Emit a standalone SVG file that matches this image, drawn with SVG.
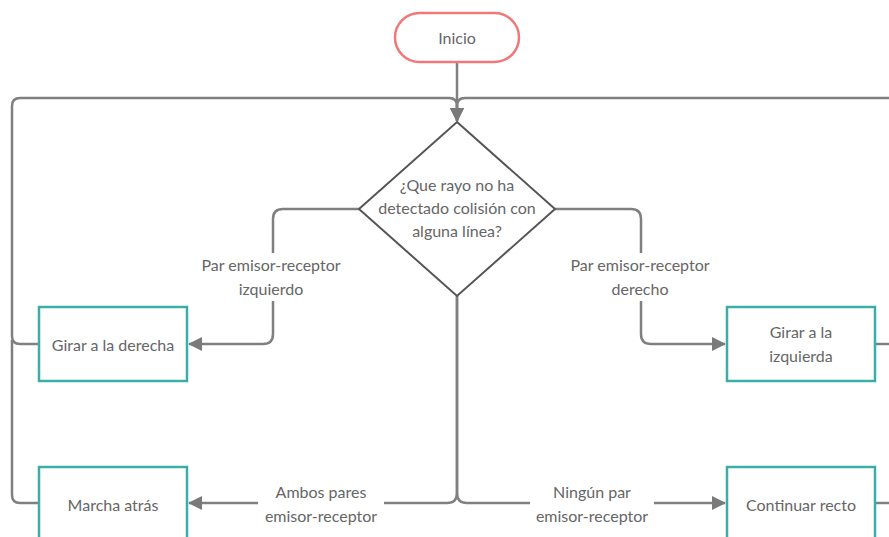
<svg xmlns="http://www.w3.org/2000/svg" width="889" height="537" viewBox="0 0 889 537">
  <defs>
    <marker id="arrow" viewBox="0 0 14 14" refX="13" refY="7" markerWidth="14" markerHeight="14" markerUnits="userSpaceOnUse" orient="auto">
      <path d="M0,0 L14,7 L0,14 Z" fill="#7a7a7a"/>
    </marker>
    <style>
      .conn { fill: none; stroke: #808080; stroke-width: 2.5; stroke-linejoin: round; }
      .proc { fill: #ffffff; stroke: #3aaeaa; stroke-width: 2.5; }
      .start { fill: #ffffff; stroke: #f07878; stroke-width: 2.5; }
      .dec { fill: #ffffff; stroke: #555555; stroke-width: 2; }
      .txt { font-family: Lato, "Open Sans", "Liberation Sans", sans-serif; font-size: 16px; fill: #666666; text-anchor: middle; dominant-baseline: central; }
      .lblbg { fill: #ffffff; }
    </style>
  </defs>

  <!-- connectors -->
  <g id="connectors">
    <!-- start to decision -->
    <path class="conn" d="M457,62 V121" marker-end="url(#arrow)"/>
    <!-- left loop back to decision -->
    <path class="conn" d="M39,344 H20 Q12,344 12,336 V106 Q12,98 20,98 H449 Q457,98 457,106 V121" marker-end="url(#arrow)"/>
    <path class="conn" d="M39,503 H20 Q12,503 12,495 V340"/>
    <!-- right loop back to decision -->
    <path class="conn" d="M876,344 H900"/>
    <path class="conn" d="M876,503 H900"/>
    <path class="conn" d="M900,98 H465 Q457,98 457,106 V121" marker-end="url(#arrow)"/>
    <!-- decision: left pair -->
    <path class="conn" d="M359,209 H283 Q273,209 273,219 V334 Q273,344 263,344 H189" marker-end="url(#arrow)"/>
    <!-- decision: right pair -->
    <path class="conn" d="M555,209 H631 Q641,209 641,219 V334 Q641,344 651,344 H725" marker-end="url(#arrow)"/>
    <!-- decision: both pairs -->
    <path class="conn" d="M457,296 V493 Q457,503 447,503 H189" marker-end="url(#arrow)"/>
    <!-- decision: no pair -->
    <path class="conn" d="M457,296 V493 Q457,503 467,503 H725" marker-end="url(#arrow)"/>

    <!-- connector labels -->
    <rect class="lblbg" x="194" y="253" width="156" height="48"/>
    <text class="txt" x="271" y="264.5">Par emisor-receptor</text>
    <text class="txt" x="271" y="288.5">izquierdo</text>

    <rect class="lblbg" x="563" y="253" width="156" height="48"/>
    <text class="txt" x="640" y="264.5">Par emisor-receptor</text>
    <text class="txt" x="640" y="288.5">derecho</text>

    <rect class="lblbg" x="258" y="479" width="126" height="50"/>
    <text class="txt" x="321" y="491.5">Ambos pares</text>
    <text class="txt" x="321" y="515.5">emisor-receptor</text>

    <rect class="lblbg" x="530" y="479" width="124" height="50"/>
    <text class="txt" x="592" y="491.5">Ningún par</text>
    <text class="txt" x="592" y="515.5">emisor-receptor</text>
  </g>

  <!-- nodes -->
  <g id="inicio">
    <rect class="start" x="395" y="13" width="124" height="49" rx="24.5" ry="24.5"/>
    <text class="txt" x="457" y="37">Inicio</text>
  </g>

  <g id="decision">
    <path class="dec" d="M457,122 L555,209 L457,296 L359,209 Z"/>
    <text class="txt" x="457" y="184.5">¿Que rayo no ha</text>
    <text class="txt" x="457" y="207.5">detectado colisión con</text>
    <text class="txt" x="457" y="230.5">alguna línea?</text>
  </g>

  <g id="girar-derecha">
    <rect class="proc" x="39" y="307" width="148" height="74"/>
    <text class="txt" x="113" y="344.5">Girar a la derecha</text>
  </g>

  <g id="girar-izquierda">
    <rect class="proc" x="727" y="307" width="148" height="74"/>
    <text class="txt" x="801" y="331.5">Girar a la</text>
    <text class="txt" x="801" y="355.5">izquierda</text>
  </g>

  <g id="marcha-atras">
    <rect class="proc" x="39" y="467" width="148" height="74"/>
    <text class="txt" x="113" y="504.5">Marcha atrás</text>
  </g>

  <g id="continuar-recto">
    <rect class="proc" x="727" y="467" width="148" height="74"/>
    <text class="txt" x="801" y="504.5">Continuar recto</text>
  </g>
</svg>
